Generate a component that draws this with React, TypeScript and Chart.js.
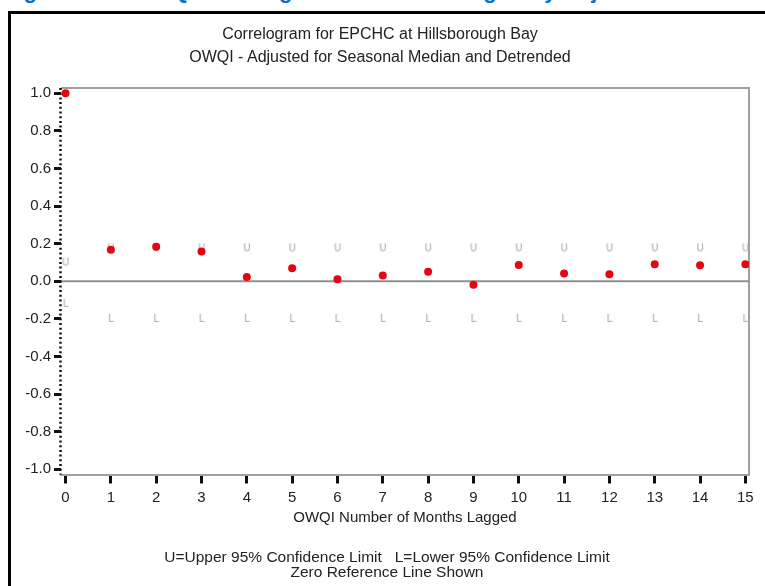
import React, { useEffect, useRef } from "react";
import { Chart, registerables } from "chart.js";

Chart.register(...registerables);

const lags = [0, 1, 2, 3, 4, 5, 6, 7, 8, 9, 10, 11, 12, 13, 14, 15];
const autocorr = [1.0, 0.168, 0.184, 0.158, 0.023, 0.069, 0.011, 0.03, 0.05, -0.018, 0.087, 0.041, 0.037, 0.09, 0.085, 0.09];
const upper95 = [0.1, 0.175, 0.175, 0.175, 0.175, 0.175, 0.175, 0.175, 0.175, 0.175, 0.175, 0.175, 0.175, 0.175, 0.175, 0.175];
const lower95 = [-0.12, -0.2, -0.2, -0.2, -0.2, -0.2, -0.2, -0.2, -0.2, -0.2, -0.2, -0.2, -0.2, -0.2, -0.2, -0.2];
const yTicks = [-1.0, -0.8, -0.6, -0.4, -0.2, 0.0, 0.2, 0.4, 0.6, 0.8, 1.0];

const titleLines = ["Correlogram for EPCHC at Hillsborough Bay", "OWQI - Adjusted for Seasonal Median and Detrended"];
const xTitle = "OWQI Number of Months Lagged";
const footer1 = "U=Upper 95% Confidence Limit   L=Lower 95% Confidence Limit";
const footer2 = "Zero Reference Line Shown";
const header = "Figure 3-14. OWQI Correlogram for Hillsborough Bay Adjusted for Seasonal Median";

const FONT = "Arial, 'Liberation Sans', sans-serif";

function letterImage(ch: string): HTMLCanvasElement {
  const c = document.createElement("canvas");
  c.width = 8;
  c.height = 12;
  const ctx = c.getContext("2d")!;
  ctx.fillStyle = "#a8a8a8";
  ctx.font = "11px 'DejaVu Sans Condensed', 'DejaVu Sans', sans-serif";
  ctx.textAlign = "center";
  ctx.textBaseline = "middle";
  ctx.fillText(ch, 4, 6.5);
  return c;
}

const framePlugin = {
  id: "framePlugin",
  beforeDatasetsDraw(chart: any) {
    const { ctx, chartArea: a, scales } = chart;
    ctx.save();
    ctx.strokeStyle = "#a0a0a0";
    ctx.lineWidth = 2;
    ctx.beginPath();
    ctx.moveTo(a.left, a.top);
    ctx.lineTo(a.right, a.top);
    ctx.lineTo(a.right, a.bottom);
    ctx.stroke();
    const y0 = scales.y.getPixelForValue(0);
    ctx.strokeStyle = "#909090";
    ctx.lineWidth = 2;
    ctx.beginPath();
    ctx.moveTo(a.left, y0);
    ctx.lineTo(a.right, y0);
    ctx.stroke();
    // dotted left axis
    ctx.strokeStyle = "#111";
    ctx.lineWidth = 2.5;
    ctx.setLineDash([2, 2.7]);
    ctx.beginPath();
    ctx.moveTo(a.left - 0.5, a.top);
    ctx.lineTo(a.left - 0.5, a.bottom);
    ctx.stroke();
    ctx.restore();
  },
};

export default function App() {
  const ref = useRef<HTMLCanvasElement>(null);

  useEffect(() => {
    if (!ref.current) return;
    const uImg = letterImage("U");
    const lImg = letterImage("L");
    const chart = new Chart(ref.current, {
      type: "scatter",
      data: {
        datasets: [
          {
            label: "Autocorrelation",
            data: lags.map((x, i) => ({ x, y: autocorr[i] })),
            pointRadius: 4,
            pointBackgroundColor: "#e30613",
            pointBorderWidth: 0,
            showLine: false,
          },
          {
            label: "Upper",
            data: lags.map((x, i) => ({ x, y: upper95[i] })),
            pointStyle: uImg as any,
            pointRadius: 5,
            showLine: false,
          },
          {
            label: "Lower",
            data: lags.map((x, i) => ({ x, y: lower95[i] })),
            pointStyle: lImg as any,
            pointRadius: 5,
            showLine: false,
          },
        ],
      },
      options: {
        animation: false,
        responsive: false,
        devicePixelRatio: 1,
        events: [],
        layout: { padding: { left: 0, top: 88, right: 16, bottom: 59.5 } },
        plugins: { legend: { display: false }, tooltip: { enabled: false } },
        scales: {
          x: {
            type: "linear",
            min: -0.1,
            max: 15.08,
            afterBuildTicks: (s: any) => {
              s.ticks = lags.map((v) => ({ value: v }));
            },
            afterFit: (s: any) => {
              s.height = 52;
            },
            ticks: {
              autoSkip: false,
              maxRotation: 0,
              padding: 5,
              color: "#222",
              font: { family: FONT, size: 15 },
              callback: (v: any) => String(v),
            },
            grid: { drawOnChartArea: false, tickLength: 9, tickWidth: 3, tickColor: "#111" },
            border: { color: "#a0a0a0", width: 2 },
            title: { display: true, text: xTitle, color: "#222", font: { family: FONT, size: 15 }, padding: 0 },
          },
          y: {
            type: "linear",
            min: -1.028,
            max: 1.028,
            afterBuildTicks: (s: any) => {
              s.ticks = yTicks.map((v) => ({ value: v }));
            },
            afterFit: (s: any) => {
              s.width = 61;
            },
            ticks: {
              padding: 3,
              color: "#222",
              font: { family: FONT, size: 15 },
              callback: (v: any) => Number(v).toFixed(1),
            },
            grid: { drawOnChartArea: false, tickLength: 7, tickWidth: 3, tickColor: "#111" },
            border: { display: false },
          },
        },
      },
      plugins: [framePlugin],
    });
    return () => chart.destroy();
  }, []);

  return (
    <div style={{ position: "fixed", left: 0, top: 0, width: 765, height: 586, overflow: "hidden", background: "#fff" }}>
      <div
        style={{
          position: "absolute",
          left: 4,
          top: -20,
          whiteSpace: "nowrap",
          font: `bold 22px ${FONT}`,
          lineHeight: "22px",
          color: "#0a70c8",
        }}
      >
        {header}
      </div>
      <div
        style={{
          position: "absolute",
          left: 8,
          top: 11,
          width: 820,
          height: 620,
          border: "3px solid #000",
          boxSizing: "border-box",
        }}
      />
      <canvas ref={ref} width={765} height={586} style={{ position: "absolute", left: 0, top: 0 }} />
      <div
        style={{
          position: "absolute",
          left: 80,
          top: 21.5,
          width: 600,
          textAlign: "center",
          font: `16px ${FONT}`,
          lineHeight: "23px",
          color: "#222",
        }}
      >
        <div>{titleLines[0]}</div>
        <div>{titleLines[1]}</div>
      </div>
      <div
        style={{
          position: "absolute",
          left: 87,
          top: 549,
          width: 600,
          textAlign: "center",
          font: `15.5px ${FONT}`,
          lineHeight: "15px",
          color: "#222",
          whiteSpace: "pre",
        }}
      >
        <div>{footer1}</div>
        <div>{footer2}</div>
      </div>
    </div>
  );
}
